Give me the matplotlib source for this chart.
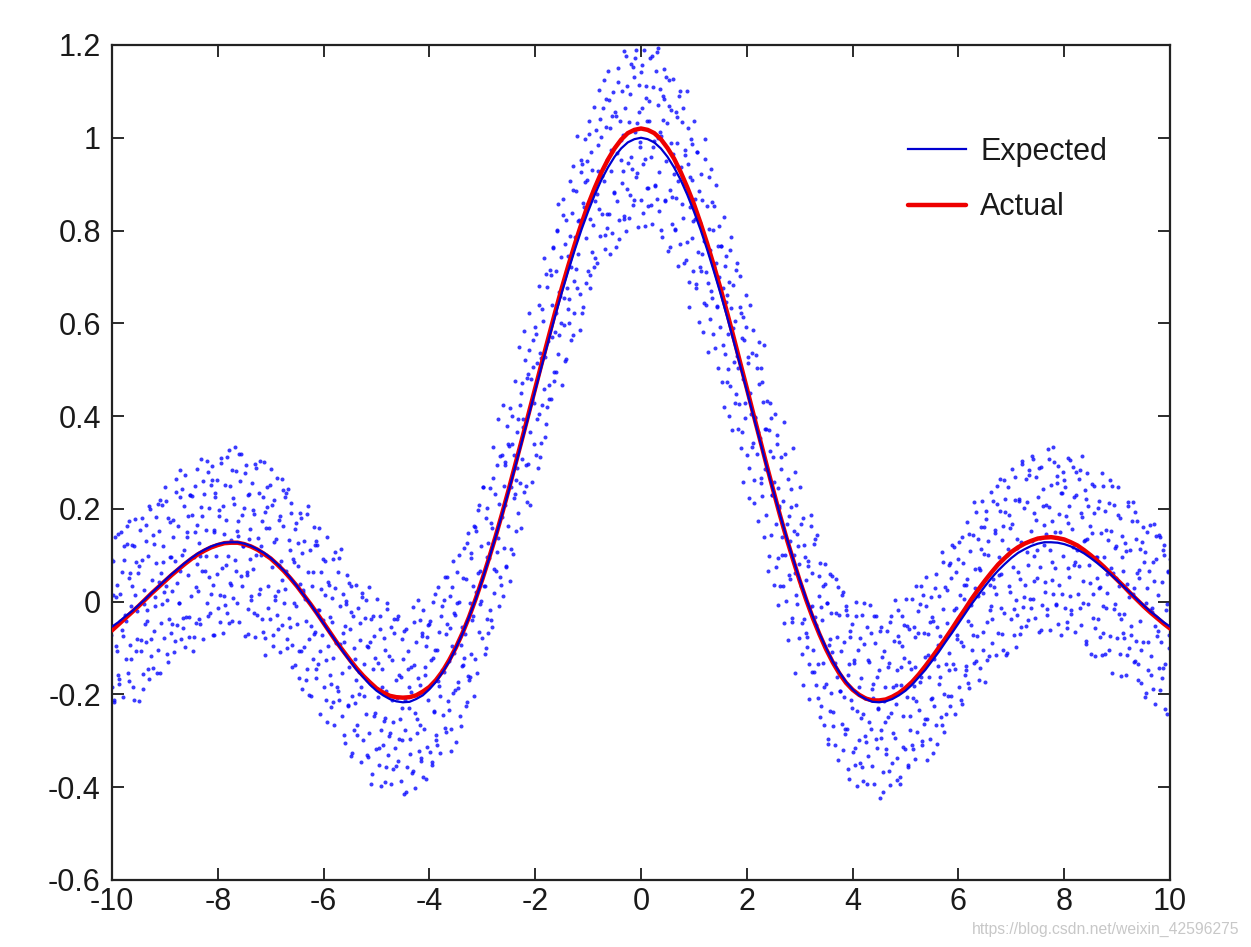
import numpy as np
import matplotlib
matplotlib.use("Agg")
import matplotlib.pyplot as plt

plt.rcParams['font.family'] = ['Liberation Sans', 'DejaVu Sans']

# ---- data ----
curve_x = [round(-10 + 0.125 * i, 3) for i in range(161)]

expected_y = [-0.054, -0.044, -0.032, -0.021, -0.008, 0.005, 0.019, 0.032, 0.046, 0.059, 0.071, 0.083, 0.094, 0.104, 0.112, 0.119,
              0.124, 0.127, 0.128, 0.128, 0.125, 0.120, 0.113, 0.105, 0.094, 0.081, 0.067, 0.051, 0.033, 0.014, -0.005, -0.026,
              -0.047, -0.068, -0.088, -0.109, -0.128, -0.147, -0.163, -0.179, -0.192, -0.202, -0.210, -0.215, -0.217, -0.216, -0.210, -0.202,
              -0.189, -0.173, -0.152, -0.129, -0.100, -0.069, -0.033, 0.005, 0.047, 0.092, 0.139, 0.188, 0.239, 0.292, 0.346, 0.400,
              0.455, 0.509, 0.562, 0.615, 0.665, 0.713, 0.759, 0.802, 0.841, 0.877, 0.909, 0.936, 0.959, 0.977, 0.990, 0.997,
              1.000,
              0.997, 0.990, 0.977, 0.959, 0.936, 0.909, 0.877, 0.841, 0.802, 0.759, 0.713, 0.665, 0.615, 0.562, 0.509, 0.455,
              0.400, 0.346, 0.292, 0.239, 0.188, 0.139, 0.092, 0.047, 0.005, -0.033, -0.069, -0.100, -0.129, -0.152, -0.173, -0.189,
              -0.202, -0.210, -0.216, -0.217, -0.215, -0.210, -0.202, -0.192, -0.179, -0.163, -0.147, -0.128, -0.109, -0.088, -0.068, -0.047,
              -0.026, -0.005, 0.014, 0.033, 0.051, 0.067, 0.081, 0.094, 0.105, 0.113, 0.120, 0.125, 0.128, 0.128, 0.127, 0.124,
              0.119, 0.112, 0.104, 0.094, 0.083, 0.071, 0.059, 0.046, 0.032, 0.019, 0.005, -0.008, -0.021, -0.032, -0.044, -0.054]

actual_y = [-0.062, -0.049, -0.036, -0.023, -0.010, 0.004, 0.018, 0.031, 0.044, 0.057, 0.069, 0.081, 0.092, 0.102, 0.110, 0.117,
            0.122, 0.126, 0.127, 0.127, 0.124, 0.119, 0.112, 0.103, 0.093, 0.080, 0.066, 0.050, 0.033, 0.014, -0.005, -0.025,
            -0.046, -0.067, -0.088, -0.107, -0.126, -0.144, -0.160, -0.174, -0.187, -0.196, -0.203, -0.206, -0.207, -0.206, -0.202, -0.194,
            -0.184, -0.169, -0.150, -0.126, -0.099, -0.068, -0.033, 0.006, 0.048, 0.093, 0.140, 0.190, 0.242, 0.296, 0.350, 0.405,
            0.460, 0.515, 0.569, 0.623, 0.675, 0.724, 0.771, 0.815, 0.856, 0.892, 0.925, 0.953, 0.977, 0.996, 1.010, 1.017,
            1.020,
            1.017, 1.010, 0.997, 0.978, 0.955, 0.926, 0.893, 0.857, 0.816, 0.772, 0.725, 0.676, 0.624, 0.570, 0.515, 0.460,
            0.404, 0.349, 0.294, 0.240, 0.187, 0.137, 0.090, 0.045, 0.003, -0.036, -0.071, -0.103, -0.131, -0.155, -0.175, -0.190,
            -0.201, -0.209, -0.213, -0.213, -0.211, -0.205, -0.197, -0.186, -0.173, -0.157, -0.139, -0.120, -0.100, -0.080, -0.059, -0.037,
            -0.016, 0.006, 0.026, 0.045, 0.063, 0.080, 0.094, 0.107, 0.117, 0.125, 0.131, 0.136, 0.138, 0.139, 0.137, 0.134,
            0.128, 0.121, 0.111, 0.100, 0.088, 0.075, 0.061, 0.047, 0.033, 0.018, 0.004, -0.010, -0.023, -0.035, -0.047, -0.058]

# noisy samples, table 1: columns centred at -10, -9.75, ..., 10
cols_a = [round(-10 + 0.25 * i, 2) for i in range(81)]
dx_a = [-0.116, -0.098, -0.080, -0.063, -0.045, -0.027, -0.009, 0.009, 0.027, 0.045, 0.063, 0.080, 0.098, 0.116]
dy_a = [0.003, -0.004, 0.001, -0.002, 0.004, -0.001, 0.002, -0.0035, 0.0045, -0.003, 0.0, 0.0035, -0.0045, 0.0015]
samples_a = [
    [0.12, -0.13, -0.02, -0.24, 0.06, -0.07, 0.09, -0.18, 0.01, -0.21, 0.14, -0.10, 0.04, -0.16],
    [-0.17, 0.02, 0.15, -0.06, -0.21, 0.09, -0.03, -0.12, 0.12, -0.15, 0.05, 0.17, -0.09, -0.01],
    [0.03, -0.18, 0.12, 0.18, -0.11, -0.02, 0.06, -0.21, 0.15, -0.08, 0.09, -0.16, 0.00, -0.05],
    [-0.09, 0.17, -0.02, 0.10, -0.17, 0.20, -0.12, 0.05, 0.14, -0.06, 0.01, 0.08, -0.15, 0.21],
    [0.15, -0.15, 0.06, 0.21, -0.01, 0.12, -0.08, 0.25, 0.03, -0.11, 0.18, -0.04, 0.10, -0.07],
    [0.02, 0.18, -0.11, 0.09, 0.26, -0.05, 0.16, 0.00, 0.22, 0.07, -0.08, 0.24, -0.03, 0.11],
    [0.27, -0.03, 0.15, 0.06, -0.08, 0.23, 0.01, 0.19, -0.11, 0.10, 0.25, -0.05, 0.17, 0.08],
    [0.02, 0.13, -0.05, 0.31, 0.18, -0.08, 0.23, 0.07, 0.15, 0.00, 0.28, 0.05, -0.02, 0.25],
    [0.29, 0.04, 0.15, -0.07, 0.23, 0.10, 0.26, -0.01, 0.18, -0.04, 0.31, 0.07, 0.21, 0.01],
    [-0.01, 0.18, 0.31, 0.10, -0.05, 0.25, 0.13, 0.04, 0.28, 0.01, 0.21, 0.33, 0.07, 0.15],
    [0.17, -0.04, 0.26, 0.32, 0.03, 0.12, 0.20, -0.07, 0.29, 0.06, 0.23, -0.02, 0.14, 0.09],
    [0.00, 0.26, 0.07, 0.19, -0.08, 0.29, -0.03, 0.14, 0.23, 0.03, 0.10, 0.17, -0.06, 0.30],
    [0.19, -0.11, 0.10, 0.25, 0.03, 0.16, -0.04, 0.29, 0.07, -0.07, 0.22, 0.00, 0.14, -0.03],
    [0.02, 0.18, -0.11, 0.09, 0.26, -0.05, 0.16, 0.00, 0.22, 0.07, -0.08, 0.24, -0.03, 0.11],
    [0.21, -0.09, 0.09, 0.00, -0.14, 0.17, -0.05, 0.13, -0.17, 0.04, 0.19, -0.11, 0.11, 0.02],
    [-0.10, 0.01, -0.17, 0.19, 0.06, -0.20, 0.11, -0.05, 0.03, -0.12, 0.16, -0.07, -0.14, 0.13],
    [0.12, -0.13, -0.02, -0.24, 0.06, -0.07, 0.09, -0.18, 0.01, -0.21, 0.14, -0.10, 0.04, -0.16],
    [-0.23, -0.04, 0.09, -0.12, -0.27, 0.03, -0.09, -0.18, 0.06, -0.21, -0.01, 0.11, -0.15, -0.07],
    [-0.09, -0.30, 0.00, 0.06, -0.23, -0.14, -0.06, -0.33, 0.03, -0.20, -0.03, -0.28, -0.12, -0.17],
    [-0.27, -0.01, -0.20, -0.08, -0.35, 0.02, -0.30, -0.13, -0.04, -0.24, -0.17, -0.10, -0.33, 0.03],
    [-0.09, -0.39, -0.18, -0.03, -0.25, -0.12, -0.32, 0.01, -0.21, -0.35, -0.06, -0.28, -0.14, -0.31],
    [-0.26, -0.10, -0.39, -0.19, -0.02, -0.33, -0.12, -0.28, -0.06, -0.21, -0.36, -0.04, -0.31, -0.17],
    [-0.04, -0.34, -0.16, -0.25, -0.39, -0.08, -0.30, -0.12, -0.42, -0.21, -0.06, -0.36, -0.14, -0.23],
    [-0.30, -0.19, -0.37, -0.01, -0.14, -0.40, -0.09, -0.25, -0.17, -0.32, -0.04, -0.27, -0.34, -0.07],
    [-0.02, -0.27, -0.16, -0.38, -0.08, -0.21, -0.05, -0.32, -0.13, -0.35, 0.00, -0.24, -0.10, -0.30],
    [-0.29, -0.10, 0.03, -0.18, -0.33, -0.03, -0.15, -0.24, 0.00, -0.27, -0.07, 0.05, -0.21, -0.13],
    [-0.06, -0.27, 0.03, 0.09, -0.20, -0.11, -0.03, -0.30, 0.06, -0.17, 0.00, -0.25, -0.09, -0.14],
    [-0.14, 0.12, -0.07, 0.05, -0.22, 0.15, -0.17, 0.00, 0.09, -0.11, -0.04, 0.03, -0.20, 0.16],
    [0.15, -0.15, 0.06, 0.21, -0.01, 0.12, -0.08, 0.25, 0.03, -0.11, 0.18, -0.04, 0.10, -0.07],
    [0.09, 0.25, -0.04, 0.16, 0.33, 0.02, 0.23, 0.07, 0.29, 0.14, -0.01, 0.31, 0.04, 0.18],
    [0.42, 0.12, 0.30, 0.21, 0.07, 0.38, 0.16, 0.34, 0.04, 0.25, 0.40, 0.10, 0.32, 0.23],
    [0.26, 0.37, 0.19, 0.55, 0.42, 0.16, 0.47, 0.31, 0.39, 0.24, 0.52, 0.29, 0.22, 0.49],
    [0.62, 0.37, 0.48, 0.26, 0.56, 0.43, 0.59, 0.32, 0.51, 0.29, 0.64, 0.40, 0.54, 0.34],
    [0.42, 0.61, 0.74, 0.53, 0.38, 0.68, 0.56, 0.47, 0.71, 0.44, 0.64, 0.76, 0.50, 0.58],
    [0.71, 0.50, 0.80, 0.86, 0.57, 0.66, 0.74, 0.47, 0.83, 0.60, 0.77, 0.52, 0.68, 0.63],
    [0.65, 0.91, 0.72, 0.84, 0.57, 0.94, 0.62, 0.79, 0.88, 0.68, 0.75, 0.82, 0.59, 0.95],
    [0.94, 0.64, 0.85, 1.00, 0.78, 0.91, 0.71, 1.04, 0.82, 0.68, 0.97, 0.75, 0.89, 0.72],
    [0.86, 1.02, 0.73, 0.93, 1.10, 0.79, 1.00, 0.84, 1.06, 0.91, 0.76, 1.08, 0.81, 0.95],
    [1.14, 0.84, 1.02, 0.93, 0.79, 1.10, 0.88, 1.06, 0.76, 0.97, 1.12, 0.82, 1.04, 0.95],
    [0.90, 1.01, 0.83, 1.19, 1.06, 0.80, 1.11, 0.95, 1.03, 0.88, 1.16, 0.93, 0.86, 1.13],
    [1.17, 0.92, 1.03, 0.81, 1.11, 0.98, 1.14, 0.87, 1.06, 0.84, 1.19, 0.95, 1.09, 0.89],
    [0.85, 1.04, 1.17, 0.96, 0.81, 1.11, 0.99, 0.90, 1.14, 0.87, 1.07, 1.19, 0.93, 1.01],
    [1.00, 0.79, 1.09, 1.15, 0.86, 0.95, 1.03, 0.76, 1.12, 0.89, 1.06, 0.81, 0.97, 0.92],
    [0.80, 1.06, 0.87, 0.99, 0.72, 1.09, 0.77, 0.94, 1.03, 0.83, 0.90, 0.97, 0.74, 1.10],
    [0.94, 0.64, 0.85, 1.00, 0.78, 0.91, 0.71, 1.04, 0.82, 0.68, 0.97, 0.75, 0.89, 0.72],
    [0.71, 0.87, 0.58, 0.78, 0.95, 0.64, 0.85, 0.69, 0.91, 0.76, 0.61, 0.93, 0.66, 0.80],
    [0.85, 0.55, 0.73, 0.64, 0.50, 0.81, 0.59, 0.77, 0.47, 0.68, 0.83, 0.53, 0.75, 0.66],
    [0.47, 0.58, 0.40, 0.76, 0.63, 0.37, 0.68, 0.52, 0.60, 0.45, 0.73, 0.50, 0.43, 0.70],
    [0.62, 0.37, 0.48, 0.26, 0.56, 0.43, 0.59, 0.32, 0.51, 0.29, 0.64, 0.40, 0.54, 0.34],
    [0.21, 0.40, 0.53, 0.32, 0.17, 0.47, 0.35, 0.26, 0.50, 0.23, 0.43, 0.55, 0.29, 0.37],
    [0.28, 0.07, 0.37, 0.43, 0.14, 0.23, 0.31, 0.04, 0.40, 0.17, 0.34, 0.09, 0.25, 0.20],
    [0.03, 0.29, 0.10, 0.22, -0.05, 0.32, 0.00, 0.17, 0.26, 0.06, 0.13, 0.20, -0.03, 0.33],
    [0.15, -0.15, 0.06, 0.21, -0.01, 0.12, -0.08, 0.25, 0.03, -0.11, 0.18, -0.04, 0.10, -0.07],
    [-0.08, 0.08, -0.21, -0.01, 0.16, -0.15, 0.06, -0.10, 0.12, -0.03, -0.18, 0.14, -0.13, 0.01],
    [0.08, -0.22, -0.04, -0.13, -0.27, 0.04, -0.18, 0.00, -0.30, -0.09, 0.06, -0.24, -0.02, -0.11],
    [-0.24, -0.13, -0.31, 0.05, -0.08, -0.34, -0.03, -0.19, -0.11, -0.26, 0.02, -0.21, -0.28, -0.01],
    [-0.02, -0.27, -0.16, -0.38, -0.08, -0.21, -0.05, -0.32, -0.13, -0.35, 0.00, -0.24, -0.10, -0.30],
    [-0.35, -0.16, -0.03, -0.24, -0.39, -0.09, -0.21, -0.30, -0.06, -0.33, -0.13, -0.01, -0.27, -0.19],
    [-0.18, -0.39, -0.09, -0.03, -0.32, -0.23, -0.15, -0.42, -0.06, -0.29, -0.12, -0.37, -0.21, -0.26],
    [-0.32, -0.06, -0.25, -0.13, -0.40, -0.03, -0.35, -0.18, -0.09, -0.29, -0.22, -0.15, -0.38, -0.02],
    [-0.09, -0.39, -0.18, -0.03, -0.25, -0.12, -0.32, 0.01, -0.21, -0.35, -0.06, -0.28, -0.14, -0.31],
    [-0.21, -0.05, -0.34, -0.14, 0.03, -0.28, -0.07, -0.23, -0.01, -0.16, -0.31, 0.01, -0.26, -0.12],
    [0.05, -0.25, -0.07, -0.16, -0.30, 0.01, -0.21, -0.03, -0.33, -0.12, 0.03, -0.27, -0.05, -0.14],
    [-0.18, -0.07, -0.25, 0.11, -0.02, -0.28, 0.03, -0.13, -0.05, -0.20, 0.08, -0.15, -0.22, 0.05],
    [0.12, -0.13, -0.02, -0.24, 0.06, -0.07, 0.09, -0.18, 0.01, -0.21, 0.14, -0.10, 0.04, -0.16],
    [-0.15, 0.04, 0.17, -0.04, -0.19, 0.11, -0.01, -0.10, 0.14, -0.13, 0.07, 0.19, -0.07, 0.01],
    [0.07, -0.14, 0.16, 0.22, -0.07, 0.02, 0.10, -0.17, 0.19, -0.04, 0.13, -0.12, 0.04, -0.01],
    [-0.04, 0.22, 0.03, 0.15, -0.12, 0.25, -0.07, 0.10, 0.19, -0.01, 0.06, 0.13, -0.10, 0.26],
    [0.19, -0.11, 0.10, 0.25, 0.03, 0.16, -0.04, 0.29, 0.07, -0.07, 0.22, 0.00, 0.14, -0.03],
    [0.06, 0.22, -0.07, 0.13, 0.30, -0.01, 0.20, 0.04, 0.26, 0.11, -0.04, 0.28, 0.01, 0.15],
    [0.31, 0.01, 0.19, 0.10, -0.04, 0.27, 0.05, 0.23, -0.07, 0.14, 0.29, -0.01, 0.21, 0.12],
    [0.04, 0.15, -0.03, 0.33, 0.20, -0.06, 0.25, 0.09, 0.17, 0.02, 0.30, 0.07, 0.00, 0.27],
    [0.29, 0.04, 0.15, -0.07, 0.23, 0.10, 0.26, -0.01, 0.18, -0.04, 0.31, 0.07, 0.21, 0.01],
    [-0.03, 0.16, 0.29, 0.08, -0.07, 0.23, 0.11, 0.02, 0.26, -0.01, 0.19, 0.31, 0.05, 0.13],
    [0.13, -0.08, 0.22, 0.28, -0.01, 0.08, 0.16, -0.11, 0.25, 0.02, 0.19, -0.06, 0.10, 0.05],
    [-0.04, 0.22, 0.03, 0.15, -0.12, 0.25, -0.07, 0.10, 0.19, -0.01, 0.06, 0.13, -0.10, 0.26],
    [0.15, -0.15, 0.06, 0.21, -0.01, 0.12, -0.08, 0.25, 0.03, -0.11, 0.18, -0.04, 0.10, -0.07],
    [-0.03, 0.13, -0.16, 0.04, 0.21, -0.10, 0.11, -0.05, 0.17, 0.02, -0.13, 0.19, -0.08, 0.06],
    [0.17, -0.13, 0.05, -0.04, -0.18, 0.13, -0.09, 0.09, -0.21, 0.00, 0.15, -0.15, 0.07, -0.02],
    [-0.12, -0.01, -0.19, 0.17, 0.04, -0.22, 0.09, -0.07, 0.01, -0.14, 0.14, -0.09, -0.16, 0.11],
    [0.12, -0.13, -0.02, -0.24, 0.06, -0.07, 0.09, -0.18, 0.01, -0.21, 0.14, -0.10, 0.04, -0.16],
]

# noisy samples, table 2: columns centred at -9.875, -9.625, ..., 9.875
cols_b = [round(-9.875 + 0.25 * i, 3) for i in range(80)]
dx_b = [-0.105, -0.082, -0.058, -0.035, -0.012, 0.012, 0.035, 0.058, 0.082, 0.105]
dy_b = [-0.0025, 0.004, -0.0005, 0.0025, -0.004, 0.0015, -0.0015, 0.0045, -0.0035, 0.0005]
samples_b = [
    [0.09, -0.22, 0.01, -0.11, 0.15, -0.18, -0.04, 0.06, -0.07, 0.12],
    [-0.04, 0.16, -0.17, 0.06, -0.12, 0.12, -0.21, 0.01, 0.09, -0.08],
    [0.08, -0.11, 0.18, -0.19, 0.03, 0.13, -0.04, -0.15, 0.21, -0.08],
    [-0.14, 0.12, -0.01, 0.18, -0.10, 0.04, 0.22, -0.05, 0.09, 0.02],
    [0.22, 0.00, -0.13, 0.17, 0.10, -0.05, 0.14, -0.09, 0.24, 0.04],
    [0.00, 0.28, 0.10, -0.06, 0.21, -0.10, 0.14, 0.18, -0.03, 0.23],
    [0.23, -0.08, 0.15, 0.03, 0.29, -0.04, 0.10, 0.20, 0.07, 0.26],
    [0.10, 0.30, -0.03, 0.20, 0.02, 0.26, -0.07, 0.15, 0.23, 0.06],
    [0.20, 0.01, 0.30, -0.07, 0.15, 0.25, 0.08, -0.03, 0.33, 0.04],
    [-0.04, 0.22, 0.09, 0.28, 0.00, 0.14, 0.32, 0.05, 0.19, 0.12],
    [0.28, 0.06, -0.07, 0.23, 0.16, 0.01, 0.20, -0.03, 0.30, 0.10],
    [0.02, 0.30, 0.12, -0.04, 0.23, -0.08, 0.16, 0.20, -0.01, 0.25],
    [0.21, -0.10, 0.13, 0.01, 0.27, -0.06, 0.08, 0.18, 0.05, 0.24],
    [0.03, 0.23, -0.10, 0.13, -0.05, 0.19, -0.14, 0.08, 0.16, -0.01],
    [0.08, -0.11, 0.18, -0.19, 0.03, 0.13, -0.04, -0.15, 0.21, -0.08],
    [-0.20, 0.06, -0.07, 0.12, -0.16, -0.02, 0.16, -0.11, 0.03, -0.04],
    [0.09, -0.13, -0.26, 0.04, -0.03, -0.18, 0.01, -0.22, 0.11, -0.09],
    [-0.19, 0.09, -0.09, -0.25, 0.02, -0.29, -0.05, -0.01, -0.22, 0.04],
    [-0.02, -0.33, -0.10, -0.22, 0.04, -0.29, -0.15, -0.05, -0.18, 0.01],
    [-0.20, 0.00, -0.33, -0.10, -0.28, -0.04, -0.37, -0.15, -0.07, -0.24],
    [-0.13, -0.32, -0.03, -0.40, -0.18, -0.08, -0.25, -0.36, 0.00, -0.29],
    [-0.39, -0.13, -0.26, -0.07, -0.35, -0.21, -0.03, -0.30, -0.16, -0.23],
    [-0.06, -0.28, -0.41, -0.11, -0.18, -0.33, -0.14, -0.37, -0.04, -0.24],
    [-0.28, 0.00, -0.18, -0.34, -0.07, -0.38, -0.14, -0.10, -0.31, -0.05],
    [-0.04, -0.35, -0.12, -0.24, 0.02, -0.31, -0.17, -0.07, -0.20, -0.01],
    [-0.15, 0.05, -0.28, -0.05, -0.23, 0.01, -0.32, -0.10, -0.02, -0.19],
    [0.00, -0.19, 0.10, -0.27, -0.05, 0.05, -0.12, -0.23, 0.13, -0.16],
    [-0.16, 0.10, -0.03, 0.16, -0.12, 0.02, 0.20, -0.07, 0.07, 0.00],
    [0.25, 0.03, -0.10, 0.20, 0.13, -0.02, 0.17, -0.06, 0.27, 0.07],
    [0.11, 0.39, 0.21, 0.05, 0.32, 0.01, 0.25, 0.29, 0.08, 0.34],
    [0.42, 0.11, 0.34, 0.22, 0.48, 0.15, 0.29, 0.39, 0.26, 0.45],
    [0.38, 0.58, 0.25, 0.48, 0.30, 0.54, 0.21, 0.43, 0.51, 0.34],
    [0.58, 0.39, 0.68, 0.31, 0.53, 0.63, 0.46, 0.35, 0.71, 0.42],
    [0.44, 0.70, 0.57, 0.76, 0.48, 0.62, 0.80, 0.53, 0.67, 0.60],
    [0.87, 0.65, 0.52, 0.82, 0.75, 0.60, 0.79, 0.56, 0.89, 0.69],
    [0.72, 1.00, 0.82, 0.66, 0.93, 0.62, 0.86, 0.90, 0.69, 0.95],
    [1.01, 0.70, 0.93, 0.81, 1.07, 0.74, 0.88, 0.98, 0.85, 1.04],
    [0.92, 1.12, 0.79, 1.02, 0.84, 1.08, 0.75, 0.97, 1.05, 0.88],
    [1.05, 0.86, 1.15, 0.78, 1.00, 1.10, 0.93, 0.82, 1.18, 0.89],
    [0.83, 1.09, 0.96, 1.15, 0.87, 1.01, 1.19, 0.92, 1.06, 0.99],
    [1.16, 0.94, 0.81, 1.11, 1.04, 0.89, 1.08, 0.85, 1.18, 0.98],
    [0.90, 1.18, 1.00, 0.84, 1.11, 0.80, 1.04, 1.08, 0.87, 1.13],
    [1.07, 0.76, 0.99, 0.87, 1.13, 0.80, 0.94, 1.04, 0.91, 1.10],
    [0.86, 1.06, 0.73, 0.96, 0.78, 1.02, 0.69, 0.91, 0.99, 0.82],
    [0.87, 0.68, 0.97, 0.60, 0.82, 0.92, 0.75, 0.64, 1.00, 0.71],
    [0.54, 0.80, 0.67, 0.86, 0.58, 0.72, 0.90, 0.63, 0.77, 0.70],
    [0.77, 0.55, 0.42, 0.72, 0.65, 0.50, 0.69, 0.46, 0.79, 0.59],
    [0.43, 0.71, 0.53, 0.37, 0.64, 0.33, 0.57, 0.61, 0.40, 0.66],
    [0.53, 0.22, 0.45, 0.33, 0.59, 0.26, 0.40, 0.50, 0.37, 0.56],
    [0.27, 0.47, 0.14, 0.37, 0.19, 0.43, 0.10, 0.32, 0.40, 0.23],
    [0.26, 0.07, 0.36, -0.01, 0.21, 0.31, 0.14, 0.03, 0.39, 0.10],
    [-0.08, 0.18, 0.05, 0.24, -0.04, 0.10, 0.28, 0.01, 0.15, 0.08],
    [0.17, -0.05, -0.18, 0.12, 0.05, -0.10, 0.09, -0.14, 0.19, -0.01],
    [-0.15, 0.13, -0.05, -0.21, 0.06, -0.25, -0.01, 0.03, -0.18, 0.08],
    [0.00, -0.31, -0.08, -0.20, 0.06, -0.27, -0.13, -0.03, -0.16, 0.03],
    [-0.19, 0.01, -0.32, -0.09, -0.27, -0.03, -0.36, -0.14, -0.06, -0.23],
    [-0.13, -0.32, -0.03, -0.40, -0.18, -0.08, -0.25, -0.36, 0.00, -0.29],
    [-0.39, -0.13, -0.26, -0.07, -0.35, -0.21, -0.03, -0.30, -0.16, -0.23],
    [-0.06, -0.28, -0.41, -0.11, -0.18, -0.33, -0.14, -0.37, -0.04, -0.24],
    [-0.28, 0.00, -0.18, -0.34, -0.07, -0.38, -0.14, -0.10, -0.31, -0.05],
    [-0.05, -0.36, -0.13, -0.25, 0.01, -0.32, -0.18, -0.08, -0.21, -0.02],
    [-0.17, 0.03, -0.30, -0.07, -0.25, -0.01, -0.34, -0.12, -0.04, -0.21],
    [-0.04, -0.23, 0.06, -0.31, -0.09, 0.01, -0.16, -0.27, 0.09, -0.20],
    [-0.24, 0.02, -0.11, 0.08, -0.20, -0.06, 0.12, -0.15, -0.01, -0.08],
    [0.13, -0.09, -0.22, 0.08, 0.01, -0.14, 0.05, -0.18, 0.15, -0.05],
    [-0.07, 0.21, 0.03, -0.13, 0.14, -0.17, 0.07, 0.11, -0.10, 0.16],
    [0.18, -0.13, 0.10, -0.02, 0.24, -0.09, 0.05, 0.15, 0.02, 0.21],
    [0.06, 0.26, -0.07, 0.16, -0.02, 0.22, -0.11, 0.11, 0.19, 0.02],
    [0.17, -0.02, 0.27, -0.10, 0.12, 0.22, 0.05, -0.06, 0.30, 0.01],
    [-0.05, 0.21, 0.08, 0.27, -0.01, 0.13, 0.31, 0.04, 0.18, 0.11],
    [0.29, 0.07, -0.06, 0.24, 0.17, 0.02, 0.21, -0.02, 0.31, 0.11],
    [0.05, 0.33, 0.15, -0.01, 0.26, -0.05, 0.19, 0.23, 0.02, 0.28],
    [0.25, -0.06, 0.17, 0.05, 0.31, -0.02, 0.12, 0.22, 0.09, 0.28],
    [0.08, 0.28, -0.05, 0.18, 0.00, 0.24, -0.09, 0.13, 0.21, 0.04],
    [0.15, -0.04, 0.25, -0.12, 0.10, 0.20, 0.03, -0.08, 0.28, -0.01],
    [-0.11, 0.15, 0.02, 0.21, -0.07, 0.07, 0.25, -0.02, 0.12, 0.05],
    [0.19, -0.03, -0.16, 0.14, 0.07, -0.08, 0.11, -0.12, 0.21, 0.01],
    [-0.07, 0.21, 0.03, -0.13, 0.14, -0.17, 0.07, 0.11, -0.10, 0.16],
    [0.11, -0.20, 0.03, -0.09, 0.17, -0.16, -0.02, 0.08, -0.05, 0.14],
    [-0.06, 0.14, -0.19, 0.04, -0.14, 0.10, -0.23, -0.01, 0.07, -0.10],
]

x_ticks = [-10, -8, -6, -4, -2, 0, 2, 4, 6, 8, 10]
y_ticks = [-0.6, -0.4, -0.2, 0, 0.2, 0.4, 0.6, 0.8, 1, 1.2]
y_tick_labels = ['-0.6', '-0.4', '-0.2', '0', '0.2', '0.4', '0.6', '0.8', '1', '1.2']
legend_labels = ['Expected', 'Actual']
watermark = 'https://blog.csdn.net/weixin_42596275'

# ---- scatter coordinates from the two tables ----
sx = np.concatenate([(np.array(cols_a)[:, None] + np.array(dx_a)[None, :]).ravel(),
                     (np.array(cols_b)[:, None] + np.array(dx_b)[None, :]).ravel()])
sy = np.concatenate([(np.array(samples_a) + np.array(dy_a)[None, :]).ravel(),
                     (np.array(samples_b) + np.array(dy_b)[None, :]).ravel()])

fig = plt.figure(figsize=(12.51, 9.47), dpi=100)
ax = fig.add_axes([0.0895, 0.0708, 0.8458, 0.8817])

ax.plot(sx, sy, linestyle='none', marker='o', markersize=2.9, color='#0a0aff',
        alpha=0.8, markeredgewidth=0, zorder=2)
l_act, = ax.plot(curve_x, actual_y, color='#ee0000', lw=3.2, zorder=3, solid_capstyle='round')
l_exp, = ax.plot(curve_x, expected_y, color='#0000d0', lw=1.6, zorder=4)

ax.set_xlim(-10, 10)
ax.set_ylim(-0.6, 1.2)
ax.set_xticks(x_ticks)
ax.set_xticklabels([str(v) for v in x_ticks])
ax.set_yticks(y_ticks)
ax.set_yticklabels(y_tick_labels)
ax.tick_params(direction='in', length=8.5, width=1.3, top=True, right=True,
               labelsize=22, colors='#1a1a1a')
ax.tick_params(axis='x', pad=5)
ax.tick_params(axis='y', pad=8)
for s in ax.spines.values():
    s.set_linewidth(1.6)
    s.set_color('#222222')

leg = ax.legend([l_exp, l_act], legend_labels, loc='upper left', frameon=False,
                fontsize=22, handlelength=1.9, labelspacing=0.85,
                bbox_to_anchor=(0.741, 0.905), handletextpad=0.45, borderaxespad=0)
for t in leg.get_texts():
    t.set_color('#1a1a1a')

fig.text(0.991, 0.019, watermark, ha='right', va='center', fontsize=11.3, color='#c8c8c8')

fig.savefig('out.png', dpi=100, facecolor='white')
